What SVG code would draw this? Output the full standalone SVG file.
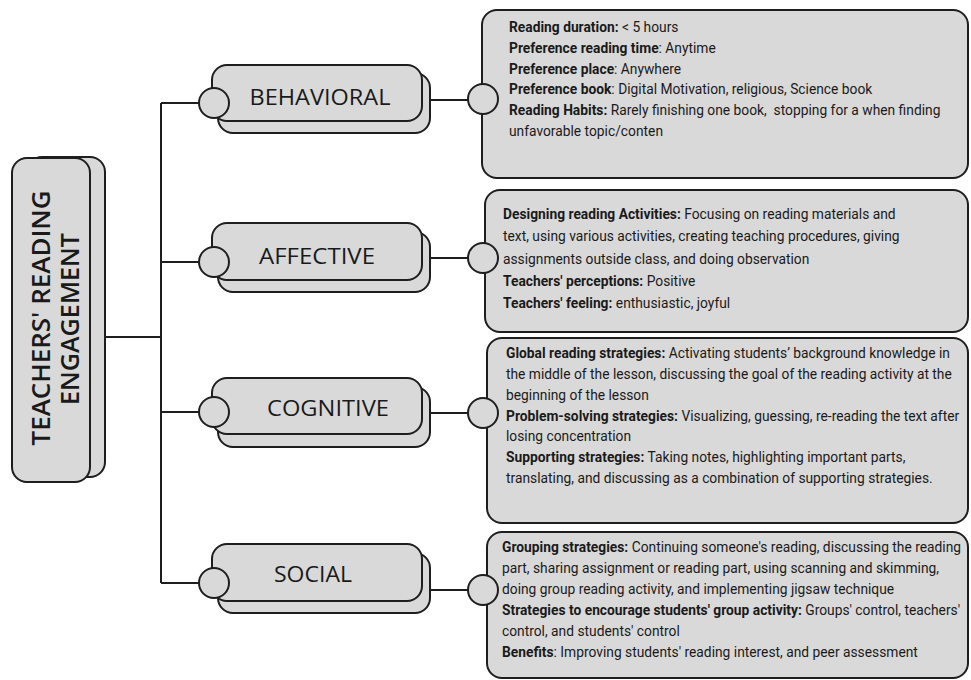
<svg xmlns="http://www.w3.org/2000/svg" width="971" height="680" viewBox="0 0 971 680">
<style>
.box{fill:#d9d9d9;stroke:#1e1e1e;stroke-width:2}
.line{fill:none;stroke:#1e1e1e;stroke-width:2}
.lbl{font-family:"Open Sans","DejaVu Sans",sans-serif;font-size:22px;fill:#1a1a1a;text-anchor:middle}
.root{font-family:"Open Sans","DejaVu Sans",sans-serif;font-size:26px;font-weight:600;fill:#1a1a1a;text-anchor:middle}
.det{font-family:Roboto,"Liberation Sans",sans-serif;font-size:15px;fill:#1a1a1a}
.b{font-weight:bold}
</style>
<rect width="971" height="680" fill="#ffffff"/>
<g id="connectors">
<path class="line" d="M105,337 H161 M161,103 V583 M161,103 H200 M161,262 H200 M161,412 H200 M161,583 H200"/>
<path class="line" d="M430,100 H468 M430,258 H468 M430,413 H468 M430,590 H468"/>
</g>
<g id="root">
<rect class="box" x="27" y="157" width="78" height="320" rx="15"/>
<rect class="box" x="12" y="158" width="78" height="324" rx="15"/>
<text class="root" transform="translate(50,318) rotate(-90)" textLength="255" lengthAdjust="spacingAndGlyphs">TEACHERS' READING</text>
<text class="root" transform="translate(79,319) rotate(-90)" textLength="172" lengthAdjust="spacingAndGlyphs">ENGAGEMENT</text>
</g>
<g id="behavioral">
<rect class="box" x="218" y="73" width="212" height="60" rx="15"/>
<rect class="box" x="212" y="65" width="210" height="56" rx="15"/>
<circle class="box" cx="214" cy="103" r="15"/>
<text class="lbl" x="320" y="105" textLength="141" lengthAdjust="spacingAndGlyphs">BEHAVIORAL</text>
</g>
<g id="affective">
<rect class="box" x="218" y="232" width="212" height="60" rx="15"/>
<rect class="box" x="212" y="223" width="210" height="57" rx="15"/>
<circle class="box" cx="214" cy="262" r="15"/>
<text class="lbl" x="317" y="264" textLength="116" lengthAdjust="spacingAndGlyphs">AFFECTIVE</text>
</g>
<g id="cognitive">
<rect class="box" x="218" y="387" width="212" height="60" rx="15"/>
<rect class="box" x="212" y="378" width="210" height="56" rx="15"/>
<circle class="box" cx="214" cy="412" r="15"/>
<text class="lbl" x="328" y="416" textLength="122" lengthAdjust="spacingAndGlyphs">COGNITIVE</text>
</g>
<g id="social">
<rect class="box" x="218" y="553" width="212" height="60" rx="15"/>
<rect class="box" x="212" y="544" width="210" height="57" rx="15"/>
<circle class="box" cx="214" cy="583" r="15"/>
<text class="lbl" x="313" y="582" textLength="78" lengthAdjust="spacingAndGlyphs">SOCIAL</text>
</g>
<g id="detail-behavioral">
<rect class="box" x="482" y="10" width="486" height="168" rx="15"/>
<circle class="box" cx="483" cy="99" r="15"/>
<g transform="translate(509,0) scale(0.92,1)">
<text class="det" x="0" y="32"><tspan class="b">Reading duration:</tspan> &lt; 5 hours</text>
<text class="det" x="0" y="53"><tspan class="b">Preference reading time</tspan>: Anytime</text>
<text class="det" x="0" y="74"><tspan class="b">Preference place</tspan>: Anywhere</text>
<text class="det" x="0" y="94"><tspan class="b">Preference book</tspan>: Digital Motivation, religious, Science book</text>
<text class="det" x="0" y="115" xml:space="preserve"><tspan class="b">Reading Habits:</tspan> Rarely finishing one book,  stopping for a when finding</text>
<text class="det" x="0" y="136">unfavorable topic/conten</text>
</g>
</g>
<g id="detail-affective">
<rect class="box" x="485" y="190" width="483" height="142" rx="15"/>
<circle class="box" cx="483" cy="258" r="15"/>
<g transform="translate(503,0) scale(0.92,1)">
<text class="det" x="0" y="219"><tspan class="b">Designing reading Activities:</tspan> Focusing on reading materials and</text>
<text class="det" x="0" y="241">text, using various activities, creating teaching procedures, giving</text>
<text class="det" x="0" y="264">assignments outside class, and doing observation</text>
<text class="det" x="0" y="286"><tspan class="b">Teachers' perceptions:</tspan> Positive</text>
<text class="det" x="0" y="308"><tspan class="b">Teachers' feeling:</tspan> enthusiastic, joyful</text>
</g>
</g>
<g id="detail-cognitive">
<rect class="box" x="487" y="338" width="481" height="185" rx="15"/>
<circle class="box" cx="483" cy="413" r="15"/>
<g transform="translate(506,0) scale(0.92,1)">
<text class="det" x="0" y="358"><tspan class="b">Global reading strategies:</tspan> Activating students’ background knowledge in</text>
<text class="det" x="0" y="379">the middle of the lesson, discussing the goal of the reading activity at the</text>
<text class="det" x="0" y="400">beginning of the lesson</text>
<text class="det" x="0" y="421"><tspan class="b">Problem-solving strategies:</tspan> Visualizing, guessing, re-reading the text after</text>
<text class="det" x="0" y="441">losing concentration</text>
<text class="det" x="0" y="462"><tspan class="b">Supporting strategies:</tspan> Taking notes, highlighting important parts,</text>
<text class="det" x="0" y="483">translating, and discussing as a combination of supporting strategies.</text>
</g>
</g>
<g id="detail-social">
<rect class="box" x="487" y="532" width="481" height="146" rx="15"/>
<circle class="box" cx="483" cy="590" r="15"/>
<g transform="translate(502,0) scale(0.92,1)">
<text class="det" x="0" y="552"><tspan class="b">Grouping strategies:</tspan> Continuing someone's reading, discussing the reading</text>
<text class="det" x="0" y="573">part, sharing assignment or reading part, using scanning and skimming,</text>
<text class="det" x="0" y="594">doing group reading activity, and implementing jigsaw technique</text>
<text class="det" x="0" y="615"><tspan class="b">Strategies to encourage students' group activity:</tspan> Groups' control, teachers'</text>
<text class="det" x="0" y="636">control, and students' control</text>
<text class="det" x="0" y="657"><tspan class="b">Benefits</tspan>: Improving students' reading interest, and peer assessment</text>
</g>
</g>
</svg>
